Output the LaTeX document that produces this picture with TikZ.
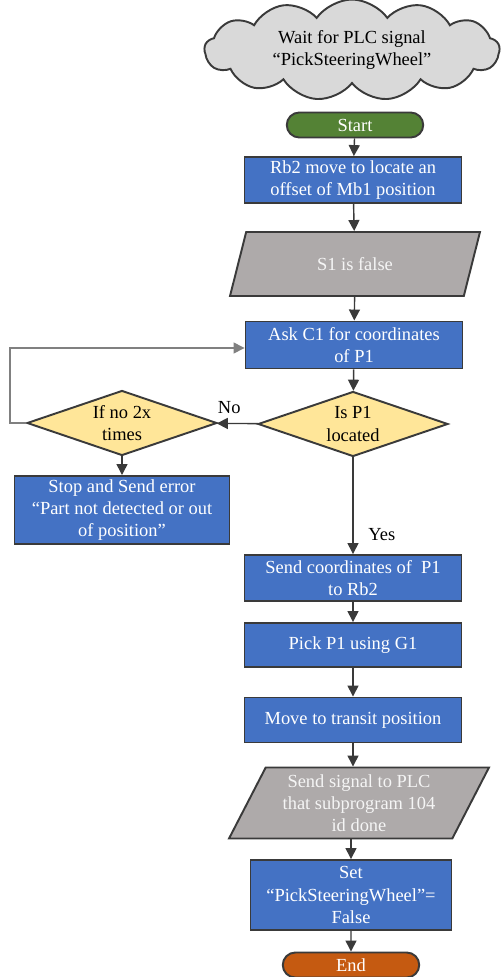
\documentclass[tikz,border=0pt]{standalone}
\usepackage{fontspec}
\setmainfont{Liberation Serif}
\usepackage{tikz}
\usetikzlibrary{arrows.meta,positioning,shapes.geometric,shapes.symbols,shapes.misc}
\definecolor{boxblue}{HTML}{4472C4}
\definecolor{boxgray}{HTML}{AEAAAA}
\definecolor{boxyellow}{HTML}{FFE699}
\definecolor{boxgreen}{HTML}{548235}
\definecolor{boxorange}{HTML}{C55A11}
\definecolor{cloudgray}{HTML}{D9D9D9}
\definecolor{edgegray}{HTML}{3A3A3A}

\begin{document}
\begin{tikzpicture}[x=0.02cm,y=-0.02cm,
   font=\fontsize{10.5}{12.6}\selectfont,
   s/.style={draw=edgegray,line width=1.1pt,fill=boxblue,text=white,
             minimum width=4.34cm,minimum height=0.88cm,align=center,inner sep=2pt},
   io/.style={draw=edgegray,line width=1.1pt,fill=boxgray,text=white!92!gray,
              trapezium,trapezium left angle=57,trapezium right angle=123,
              trapezium stretches body,minimum width=5cm,minimum height=1.28cm,align=center},
   dec/.style={draw=edgegray,line width=1.1pt,fill=boxyellow,diamond,aspect=2.9,
               minimum width=3.8cm,minimum height=1.3cm,align=center,inner sep=0pt},
   term/.style={draw=edgegray,line width=1.1pt,rounded rectangle,text=white,
                minimum width=2.8cm,minimum height=0.5cm,inner sep=1pt},
   arr/.style={-{Triangle[length=2.2mm,width=2.2mm]},edgegray,line width=0.8pt}]
  \useasboundingbox (0,0) rectangle (503,977);
  \node[cloud,cloud puffs=13,cloud puff arc=110,aspect=3.3,draw=edgegray,line width=1.1pt,
        fill=cloudgray,minimum width=5.9cm,minimum height=1.75cm,align=center]
        (wait) at (352,50) {Wait for PLC signal\\``PickSteeringWheel''};
  \node[term,fill=boxgreen] (start) at (355,125) {Start};
  \node[s] (loc) at (353,180) {Rb2 move to locate an\\offset of Mb1 position};
  \node[io,minimum width=5cm] (sone) at (355,264) {S1 is false};
  \node[s,minimum height=0.94cm] (ask) at (354,345) {Ask C1 for coordinates\\of P1};
  \node[dec] (isp) at (353,424) {Is P1\\located};
  \node[dec] (twice) at (122,423) {If no 2x\\times};
  \node[s,minimum width=4.3cm,minimum height=1.34cm] (err) at (122,510)
        {Stop and Send error\\``Part not detected or out\\of position''};
  \node[s,minimum height=0.92cm] (send) at (353,578) {Send coordinates of~ P1\\to Rb2};
  \node[s] (pick) at (353,645) {Pick P1 using G1};
  \node[s,minimum height=0.9cm] (move) at (353,720) {Move to transit position};
  \node[io,trapezium left angle=62,trapezium right angle=118,minimum width=5.2cm,
        minimum height=1.42cm] (sig) at (359,803) {Send signal to PLC\\that subprogram 104\\id done};
  \node[s,minimum width=4.02cm,minimum height=1.4cm] (set) at (351,895)
        {Set\\``PickSteeringWheel''=\\False};
  \node[term,fill=boxorange] (end) at (351,965) {End};
  \coordinate (lb) at (10,348);
  % main column
  \draw[arr] (start) -- (loc);
  \draw[arr] (loc) -- (sone);
  \draw[arr] (sone) -- (ask);
  \draw[arr] (ask) -- (isp);
  \draw[arr] (isp) -- node[pos=0.8,right=5pt,black] {Yes} (send);
  \draw[arr] (send) -- (pick);
  \draw[arr] (pick) -- (move);
  \draw[arr] (move) -- (move |- sig.north);
  \draw[arr] (set |- sig.south) -- (set);
  \draw[arr] (set) -- (end);
  % retry branch
  \draw[arr] (isp) -- node[above=2pt,pos=0.7,black] {No} (twice);
  \draw[arr,gray] (twice.west) -| (lb) -- (ask.west |- lb);
  \draw[arr] (twice) -- (err);
\end{tikzpicture}
\end{document}
